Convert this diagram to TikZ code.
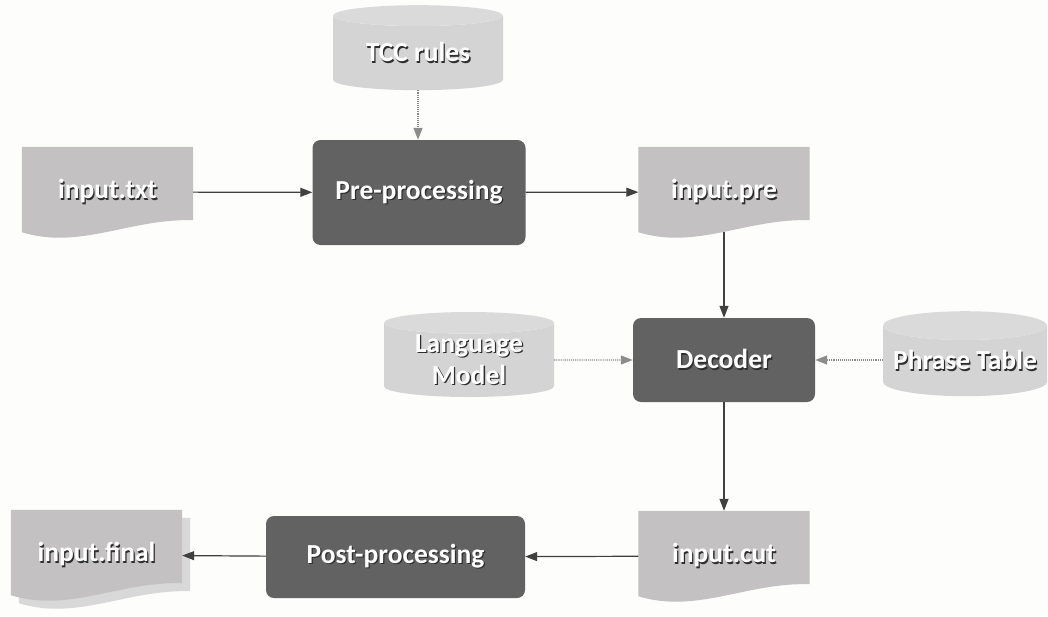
\documentclass[tikz,border=0pt]{standalone}
\usepackage{fontspec}
\setmainfont{Carlito}
\usetikzlibrary{shapes.geometric,arrows.meta,backgrounds}

\definecolor{paper}{HTML}{FDFDFC}
\definecolor{docgray}{HTML}{C3C1C2}
\definecolor{docback}{HTML}{D9D8D8}
\definecolor{procgray}{HTML}{626262}
\definecolor{dbgray}{HTML}{D4D4D4}
\definecolor{dbtop}{HTML}{DADADA}
\definecolor{linkgray}{HTML}{8C8C8C}
\definecolor{shade}{HTML}{2E2E2E}

% white label with a small dark drop shadow
\newcommand\shd[1]{\rlap{\kern1.3pt\raisebox{-1.3pt}{\color{shade}#1}}#1}

\tikzset{
  label text/.style={text=white, font=\fontsize{27.5}{32}\selectfont\bfseries, align=center},
  docnode/.style={label text, rectangle, inner sep=0pt, minimum width=171pt, minimum height=90pt},
  proc/.style={label text, rectangle, rounded corners=8pt, fill=procgray},
  store/.style={label text, cylinder, shape border rotate=90, aspect=0.2,
    cylinder uses custom fill, cylinder body fill=dbgray, cylinder end fill=dbtop,
    minimum width=170pt, minimum height=85pt, inner sep=0pt},
  flow/.style={->, draw=black!75, line width=1.2pt},
  link/.style={->, draw=linkgray, line width=1.1pt, densely dotted},
}

% page outline with a wavy foot, #2 shifts it
\def\docpath#1#2{([shift={#2}]#1.north west) -- ([shift={#2}]#1.north east)
  -- ([shift={#2},yshift=17pt]#1.south east)
  .. controls +(-63pt,2pt) and +(58pt,-18pt) .. ([shift={#2},yshift=5pt]#1.south west) -- cycle}

\begin{document}
\begin{tikzpicture}[x=1pt, y=-1pt, >={Triangle[length=12pt,width=9pt]}]
  \useasboundingbox (0,0) rectangle (1048,616);

  % files
  \node[docnode] (intxt) at (107.5,192) {\shd{input.txt}};
  \node[docnode] (inpre) at (724,192) {\shd{input.pre}};
  \node[docnode] (incut) at (724,556) {\shd{input.cut}};
  \node[docnode] (infinal) at (96.5,555) {\shd{input.final}};

  % processing steps
  \node[proc, minimum width=213pt, minimum height=105pt] (preproc) at (419,192.5) {\shd{Pre-processing}};
  \node[proc, minimum width=182pt, minimum height=84pt] (decoder) at (724,360) {\shd{Decoder}};
  \node[proc, minimum width=259pt, minimum height=82pt] (postproc) at (395.5,557) {\shd{Post-processing}};

  % data stores
  \node[store] (tcc) at (418,53) {\shd{TCC rules}};
  \node[store] (lm) at (469,360) {\shd{Language}\\\shd{Model}};
  \node[store, minimum width=164pt] (ptable) at (965,361) {\shd{Phrase Table}};

  \draw[flow] (intxt) -- (preproc);
  \draw[flow] (preproc) -- (inpre);
  \draw[flow] ([yshift=5pt]inpre.south) -- (decoder);
  \draw[flow] (decoder) -- (incut);
  \draw[flow] (incut) -- (postproc);
  \draw[flow] (postproc) -- (infinal);

  \draw[link] (tcc.south) -- (tcc.south |- preproc.north);
  \draw[link] (lm) -- (decoder);
  \draw[link] (ptable.west |- decoder) -- (decoder);

  \begin{scope}[on background layer]
    \fill[paper] (0,0) rectangle (1048,616);
    \fill[docback] \docpath{infinal}{(8pt,-8pt)};
    \foreach \f in {intxt,inpre,incut,infinal}
      \fill[docgray] \docpath{\f}{(0pt,0pt)};
  \end{scope}
\end{tikzpicture}
\end{document}
